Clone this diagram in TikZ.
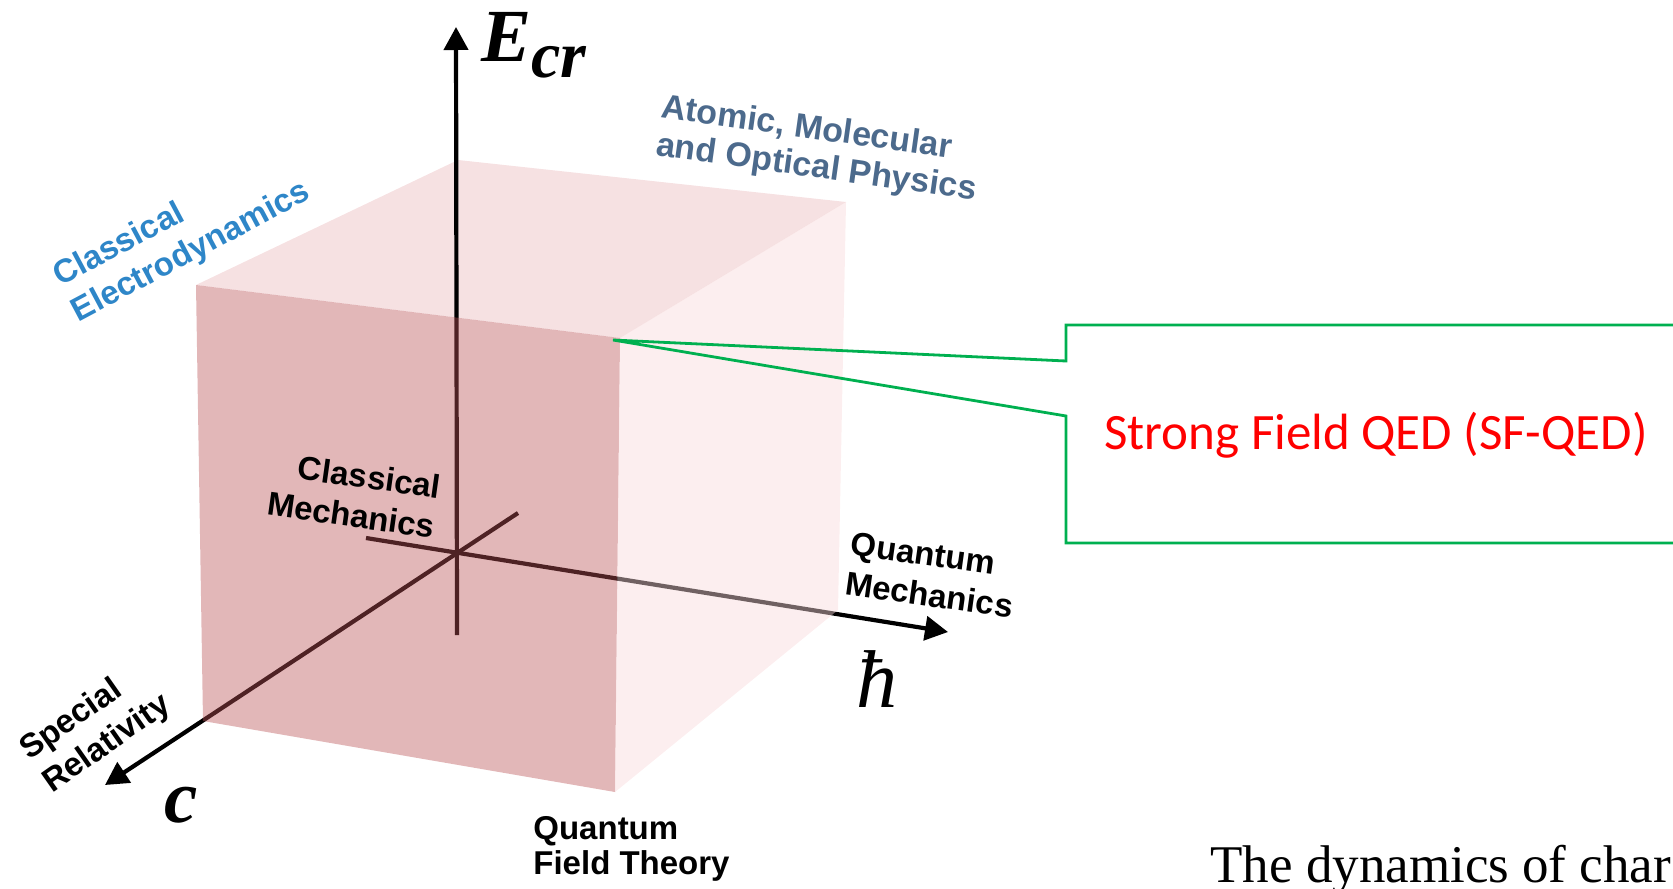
\documentclass[tikz,border=0pt]{standalone}
\usepackage{fontspec}
\setmainfont{Liberation Sans}
\newfontfamily\qedfont{Carlito}
\newfontfamily\timesfont{Liberation Serif}
\usetikzlibrary{arrows.meta}
\definecolor{frontc}{RGB}{186,83,86}
\definecolor{topc}{RGB}{246,225,226}
\definecolor{rightc}{RGB}{249,217,219}
\definecolor{cedblue}{RGB}{46,134,200}
\definecolor{amoblue}{RGB}{76,106,140}
\definecolor{callgreen}{RGB}{0,176,80}
\begin{document}
\begin{tikzpicture}[x=0.5pt,y=-0.5pt,
  axisline/.style={line width=2.1pt,black,-{Triangle[length=11.5pt,width=12pt]}},
  lbl/.style={font=\bfseries\fontsize{16.5pt}{20pt}\selectfont,inner sep=0pt},
  callout/.style={draw=callgreen,line width=1.4pt,line join=miter}]
\useasboundingbox (0,0) rectangle (1673,888);
% cube corners
\coordinate (FTL) at (196,285);
\coordinate (FTR) at (620,338);
\coordinate (FBR) at (615,792);
\coordinate (FBL) at (203,721);
\coordinate (BTL) at (458,160);
\coordinate (BTR) at (846,202);
\coordinate (BBR) at (838,610);
% top face
\fill[topc] (FTL) -- (BTL) -- (BTR) -- (FTR) -- cycle;
% axes
\coordinate (O) at (457,553);
\coordinate (Etop) at (456,27);
\coordinate (Ebot) at (457,635);
\coordinate (Hleft) at (366,538);
\coordinate (Htip) at (948,632);
\coordinate (Cup) at (518,513);
\coordinate (Ctip) at (105,785);
\draw[axisline] (Ebot) -- (Etop);
\draw[axisline] (Hleft) -- (Htip);
\draw[axisline] (Cup) -- (Ctip);
% translucent faces
\fill[frontc,fill opacity=0.42] (FTL) -- (FTR) -- (FBR) -- (FBL) -- cycle;
\fill[rightc,fill opacity=0.45] (FTR) -- (BTR) -- (BBR) -- (FBR) -- cycle;
% callout
\coordinate (tip) at (613,340);
\coordinate (b1) at (1066,325);
\coordinate (b2) at (1720,325);
\coordinate (b3) at (1720,543);
\coordinate (b4) at (1066,543);
\coordinate (b5) at (1066,416);
\coordinate (b6) at (1066,361);
\draw[callout] (b1) -- (b2) -- (b3) -- (b4) -- (b5) -- (tip) -- (b6) -- cycle;
\node[anchor=base west,inner sep=0pt,text=red,font=\qedfont\fontsize{25.5pt}{30pt}\selectfont] (sf) at (1104,449) {Strong Field QED (SF-QED)};
% labels
\node[lbl,text=cedblue,rotate=28,align=left] (ced) at (182,235) {Classical\\Electrodynamics};
\node[lbl,text=amoblue,rotate=-8,align=left,font=\bfseries\fontsize{17pt}{19pt}\selectfont] (amo) at (819,150) {Atomic, Molecular\\and Optical Physics};
\node[lbl,rotate=-8,align=right] (cm) at (354,495) {Classical\\Mechanics};
\node[lbl,rotate=-8,align=left] (qm) at (932,575) {Quantum\\Mechanics};
\node[lbl,align=left,anchor=north west,font=\bfseries\fontsize{16.5pt}{17.5pt}\selectfont] (qft) at (533,816) {Quantum\\Field Theory};
\node[lbl,rotate=35,align=left] (sr) at (96,728) {Special\\Relativity};
% math-style labels
\node[anchor=base west,inner sep=0pt] (ecr) at (481,62) {\timesfont\bfseries\itshape\fontsize{37.5pt}{40pt}\selectfont E\raisebox{-7.5pt}{\fontsize{33pt}{36pt}\selectfont cr}};
\node[inner sep=0pt] (cl) at (181,805) {\timesfont\bfseries\itshape\fontsize{37.5pt}{40pt}\selectfont c};
\node[inner sep=0pt] (hb) at (877,679) {\timesfont\itshape\fontsize{41pt}{44pt}\selectfont ħ};
\node[anchor=base west,inner sep=0pt,font=\timesfont\fontsize{26.5pt}{30pt}\selectfont] (dyn) at (1210,882) {The dynamics of char};
\end{tikzpicture}
\end{document}
